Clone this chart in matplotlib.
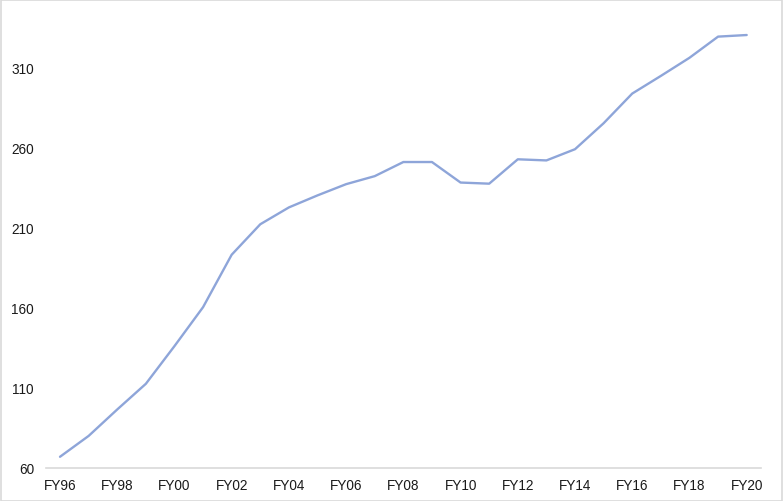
import matplotlib
matplotlib.use("Agg")
import matplotlib.pyplot as plt
from matplotlib.patches import Rectangle

# data
years = ["FY96", "FY97", "FY98", "FY99", "FY00", "FY01", "FY02", "FY03", "FY04",
         "FY05", "FY06", "FY07", "FY08", "FY09", "FY10", "FY11", "FY12", "FY13",
         "FY14", "FY15", "FY16", "FY17", "FY18", "FY19", "FY20"]
values = [67, 80, 96.5, 112.5, 136, 160.3, 193, 212, 222.5,
          230, 237, 242, 250.8, 250.8, 238, 237.3, 252.5, 251.8,
          258.8, 275, 293.5, 304.5, 315.8, 329, 330]

plt.rcParams["font.family"] = ["Liberation Sans", "DejaVu Sans"]

fig = plt.figure(figsize=(7.83, 5.02), dpi=100)
ax = fig.add_axes([45.7 / 783, 33 / 502, (761 - 45.7) / 783, (469 - 28) / 502])

x = list(range(len(years)))
ax.plot(x, values, color="#8EA5D9", linewidth=1.7, solid_capstyle="round")

ax.set_xlim(-0.5, len(years) - 0.5)
ax.set_ylim(60, 335)
ax.set_yticks([60, 110, 160, 210, 260, 310])
ax.set_xticks(x[::2])
ax.set_xticklabels(years[::2])

for s in ["top", "right", "left"]:
    ax.spines[s].set_visible(False)
ax.spines["bottom"].set_color("#D9D9D9")
ax.spines["bottom"].set_linewidth(1.2)
ax.tick_params(axis="both", length=0, labelsize=9.8, colors="#1a1a1a")
ax.tick_params(axis="y", pad=8.5)
ax.tick_params(axis="x", pad=7)

# outer border
fig.patches.append(Rectangle((0.5 / 783, 0.5 / 502), 1 - 1.5 / 783, 1 - 1.5 / 502,
                             transform=fig.transFigure, fill=False,
                             edgecolor="#D9D9D9", linewidth=1.2))

fig.savefig("out.png", dpi=100)
